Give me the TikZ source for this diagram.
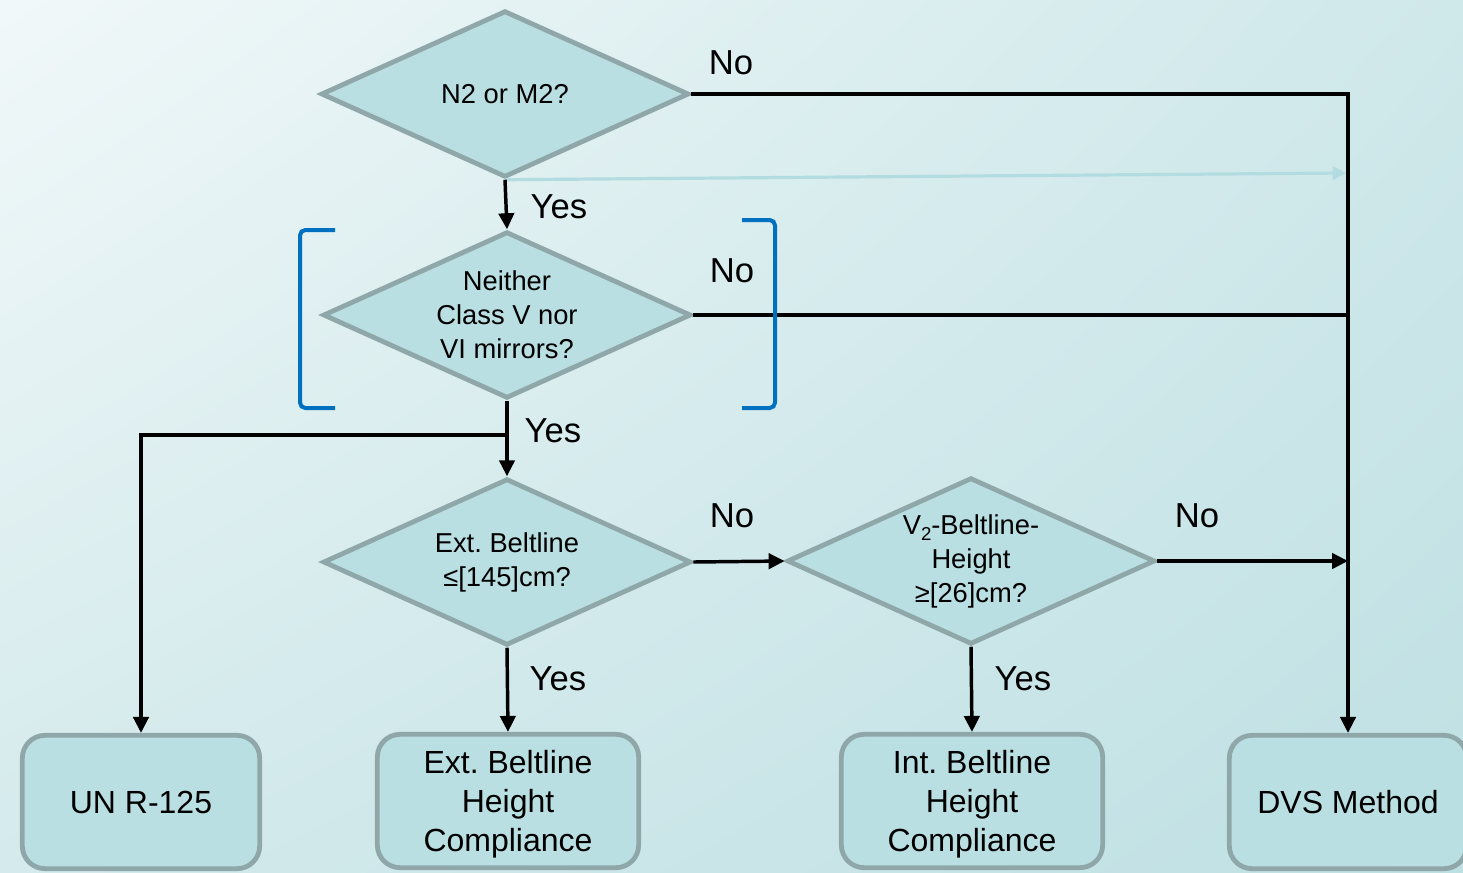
\documentclass[tikz,border=0pt]{standalone}
\usepackage{fontspec}
\setmainfont{Liberation Sans}
\usetikzlibrary{shapes.geometric,arrows.meta,shadings}
\definecolor{bgUL}{HTML}{F1F8F9}
\definecolor{bgUR}{HTML}{CFE8EA}
\definecolor{bgLL}{HTML}{D4EAEC}
\definecolor{bgLR}{HTML}{BFE0E3}
\definecolor{nodefill}{HTML}{B9DFE2}
\definecolor{nodeborder}{HTML}{8FA7A9}
\definecolor{faint}{HTML}{B3DCE0}
\definecolor{bracketblue}{HTML}{0070C0}
\newcommand{\subtwo}{\raisebox{-0.45ex}{\fontsize{14}{14}\selectfont 2}}
\begin{document}
\frenchspacing
\begin{tikzpicture}[x=0.75pt,y=-0.75pt,
  decision/.style={diamond, draw=nodeborder, fill=nodefill, line width=3.6pt,
    minimum width=276pt, minimum height=125pt, inner sep=0pt, aspect=2.2,
    align=center, font=\fontsize{20.5}{25.5}\selectfont},
  result/.style={rectangle, rounded corners=17pt, draw=nodeborder, fill=nodefill,
    line width=3.6pt, minimum height=100pt, inner sep=0pt, text depth=0pt,
    align=center, font=\fontsize{24}{29}\selectfont},
  flow/.style={line width=2.6pt, draw=black},
  flowarrow/.style={flow, -{Triangle[width=11.5pt,length=12pt]}},
  lbl/.style={font=\fontsize{26}{30}\selectfont, inner sep=0pt},
  bracket/.style={draw=bracketblue, line width=3pt, rounded corners=4pt}]
\useasboundingbox (0,0) rectangle (1463,872);
\clip (0,0) rectangle (1463,872);
\shade[upper left=bgUL, upper right=bgUR, lower left=bgLL, lower right=bgLR]
  (0,0) rectangle (1463,872);

% decisions
\node[decision] (D1) at (505,94) {N2 or M2?};
\node[decision] (D2) at (507,315) {Neither\\Class V nor\\VI mirrors?};
\node[decision] (D3) at (507,562) {Ext. Beltline\\≤[145]cm?};
\node[decision] (D4) at (971,561) {V\subtwo-Beltline-\\Height\\≥[26]cm?};

% results
\node[result, minimum width=178pt] (UN) at (141,802) {UN R-125};
\node[result, minimum width=196pt] (EXT) at (508,801) {Ext. Beltline\\Height\\Compliance};
\node[result, minimum width=196pt] (INT) at (972,801) {Int. Beltline\\Height\\Compliance};
\node[result, minimum width=178pt] (DVS) at (1348,802) {DVS Method};

% helper coordinates
\coordinate (faintEnd) at (1346,173);
\coordinate (split) at (D2.south |- 0,435);
\coordinate (j2) at (DVS.north |- D2.east);
\coordinate (j4) at (DVS.north |- D4.east);

% faint arrow
\draw[faint, line width=2.4pt, -{Triangle[width=10pt,length=10pt]}] (D1.south) -- (faintEnd);

% connectors
\draw[flowarrow] (D1.east) -| (DVS.north);
\draw[flowarrow] (D1.south) -- (D2.north);
\draw[flow] (D2.east) -- (j2);
\draw[flowarrow] (D2.south) -- (D3.north);
\draw[flowarrow] (split) -| (UN.north);
\draw[flowarrow] (D3.east) -- (D4.west);
\draw[flowarrow] (D3.south) -- (EXT.north);
\draw[flowarrow] (D4.east) -- (j4);
\draw[flowarrow] (D4.south) -- (INT.north);

% brackets
\draw[bracket] (335,230) -- (300,230) -- (300,408) -- (335,408);
\draw[bracket] (742,220) -- (775,220) -- (775,408) -- (742,408);

% labels
\node[lbl] (lNo1) at (731,63) {No};
\node[lbl] (lYes1) at (559,207) {Yes};
\node[lbl] (lNo2) at (732,271) {No};
\node[lbl] (lYes2) at (553,431) {Yes};
\node[lbl] (lNo3) at (732,516) {No};
\node[lbl] (lYes3) at (558,679) {Yes};
\node[lbl] (lNo4) at (1197,516) {No};
\node[lbl] (lYes4) at (1023,679) {Yes};
\end{tikzpicture}
\end{document}
